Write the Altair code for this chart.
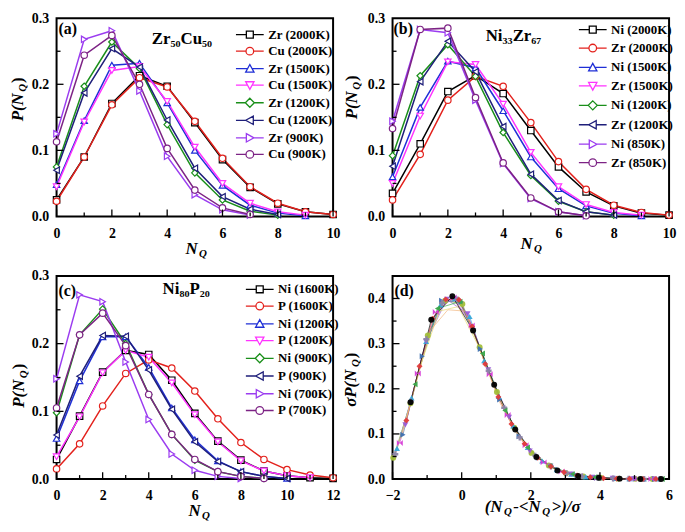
import altair as alt
import pandas as pd

FONT = "Liberation Serif"

# ---------------- data: panel (a) Zr50Cu50 ----------------
A_LABELS = ["Zr (2000K)", "Cu (2000K)", "Zr (1500K)", "Cu (1500K)",
            "Zr (1200K)", "Cu (1200K)", "Zr (900K)", "Cu (900K)"]
A_ZR2000 = [0.025, 0.090, 0.171, 0.213, 0.197, 0.142, 0.086, 0.044, 0.019, 0.007, 0.003]
A_CU2000 = [0.023, 0.090, 0.169, 0.210, 0.196, 0.144, 0.088, 0.045, 0.020, 0.007, 0.003]
A_ZR1500 = [0.048, 0.145, 0.229, 0.232, 0.172, 0.100, 0.047, 0.017, 0.005, 0.001]
A_CU1500 = [0.045, 0.143, 0.221, 0.227, 0.174, 0.105, 0.050, 0.020, 0.007, 0.002]
A_ZR1200 = [0.075, 0.197, 0.264, 0.224, 0.139, 0.066, 0.025, 0.008, 0.002]
A_CU1200 = [0.070, 0.187, 0.254, 0.226, 0.146, 0.073, 0.030, 0.011, 0.003]
A_ZR900 = [0.125, 0.268, 0.281, 0.190, 0.091, 0.033, 0.010, 0.002]
A_CU900 = [0.113, 0.244, 0.274, 0.200, 0.103, 0.040, 0.013, 0.003]

# ---------------- data: panel (b) Ni33Zr67 ----------------
B_LABELS = ["Ni (2000K)", "Zr (2000K)", "Ni (1500K)", "Zr (1500K)",
            "Ni (1200K)", "Zr (1200K)", "Ni (850K)", "Zr (850K)"]
B_NI2000 = [0.035, 0.110, 0.189, 0.213, 0.186, 0.130, 0.075, 0.037, 0.016, 0.005, 0.002]
B_ZR2000 = [0.025, 0.094, 0.176, 0.212, 0.197, 0.142, 0.083, 0.041, 0.017, 0.006, 0.002]
B_NI1500 = [0.060, 0.165, 0.235, 0.225, 0.160, 0.090, 0.042, 0.016, 0.005, 0.001]
B_ZR1500 = [0.050, 0.152, 0.234, 0.230, 0.170, 0.097, 0.045, 0.018, 0.006, 0.002]
B_NI1200 = [0.092, 0.213, 0.260, 0.212, 0.127, 0.062, 0.023, 0.007, 0.002]
B_ZR1200 = [0.076, 0.204, 0.265, 0.219, 0.136, 0.064, 0.024, 0.007, 0.002]
B_NI850 = [0.144, 0.283, 0.278, 0.176, 0.080, 0.027, 0.007, 0.001]
B_ZR850 = [0.133, 0.283, 0.285, 0.180, 0.081, 0.028, 0.007, 0.001]

# ---------------- data: panel (c) Ni80P20 ----------------
C_LABELS = ["Ni (1600K)", "P (1600K)", "Ni (1200K)", "P (1200K)",
            "Ni (900K)", "P (900K)", "Ni (700K)", "P (700K)"]
C_NI1600 = [0.029, 0.093, 0.158, 0.190, 0.184, 0.146, 0.097, 0.056, 0.028, 0.012, 0.005, 0.002, 0.001]
C_P1600 = [0.015, 0.052, 0.108, 0.156, 0.176, 0.164, 0.130, 0.089, 0.054, 0.029, 0.014, 0.006, 0.002]
C_NI1200 = [0.060, 0.145, 0.210, 0.210, 0.165, 0.105, 0.058, 0.027, 0.011, 0.004, 0.001]
C_P1200 = [0.033, 0.092, 0.157, 0.190, 0.180, 0.142, 0.095, 0.055, 0.027, 0.012, 0.005, 0.002]
C_NI900 = [0.098, 0.213, 0.251, 0.200, 0.125, 0.066, 0.028, 0.011, 0.004, 0.001]
C_P900 = [0.065, 0.152, 0.212, 0.211, 0.161, 0.103, 0.055, 0.026, 0.011, 0.004, 0.001]
C_NI700 = [0.148, 0.272, 0.262, 0.173, 0.088, 0.037, 0.013, 0.004, 0.001]
C_P700 = [0.105, 0.213, 0.245, 0.197, 0.125, 0.066, 0.029, 0.011, 0.004, 0.001]

# ---------------- data: panel (d) scaled collapse ----------------
D_NAMES = ["d2", "d3", "d4", "d5", "d6", "d7", "d8", "d9", "d10", "d11", "d1"]
D1_X = [-1.48, -0.88, -0.27, 0.33, 0.94, 1.55, 2.16, 2.77, 3.37, 3.97, 4.57, 5.17, 5.77]
D1_Y = [0.170, 0.353, 0.405, 0.329, 0.209, 0.110, 0.049, 0.019, 0.007, 0.003, 0.001, 0.0004, 0.0002]
D2_X = [-1.98, -1.48, -0.98, -0.48, 0.02, 0.52, 1.02, 1.52, 2.02, 2.52, 3.02, 3.52, 4.02, 4.52, 5.02, 5.52]
D2_Y = [0.047, 0.168, 0.318, 0.395, 0.388, 0.292, 0.193, 0.114, 0.058, 0.030, 0.013, 0.006, 0.003, 0.001, 0.0005, 0.0003]
D3_X = [-1.70, -1.14, -0.58, -0.02, 0.54, 1.10, 1.66, 2.22, 2.78, 3.34, 3.90, 4.46, 5.02, 5.58]
D3_Y = [0.098, 0.272, 0.395, 0.392, 0.288, 0.176, 0.095, 0.047, 0.020, 0.008, 0.003, 0.001, 0.0005, 0.0002]
D4_X = [-1.87, -1.45, -1.03, -0.61, -0.19, 0.23, 0.65, 1.07, 1.49, 1.91, 2.33, 2.75, 3.17, 3.59, 4.01, 4.43, 4.85, 5.27, 5.69]
D4_Y = [0.068, 0.180, 0.305, 0.386, 0.400, 0.360, 0.262, 0.183, 0.118, 0.070, 0.040, 0.021, 0.011, 0.005, 0.003, 0.0015, 0.001, 0.0005, 0.0003]
D5_X = [-1.79, -1.27, -0.75, -0.23, 0.29, 0.81, 1.33, 1.85, 2.37, 2.89, 3.41, 3.93, 4.45, 4.97, 5.49]
D5_Y = [0.080, 0.234, 0.370, 0.402, 0.340, 0.232, 0.142, 0.075, 0.037, 0.017, 0.007, 0.003, 0.0012, 0.0005, 0.0003]
D6_X = [-1.63, -1.03, -0.43, 0.17, 0.77, 1.37, 1.97, 2.57, 3.17, 3.77, 4.37, 4.97, 5.57]
D6_Y = [0.120, 0.305, 0.398, 0.366, 0.242, 0.137, 0.062, 0.028, 0.011, 0.004, 0.0015, 0.0005, 0.0002]
D7_X = [-1.92, -1.47, -1.02, -0.57, -0.12, 0.33, 0.78, 1.23, 1.68, 2.13, 2.58, 3.03, 3.48, 3.93, 4.38, 4.83, 5.28, 5.73]
D7_Y = [0.055, 0.172, 0.310, 0.390, 0.398, 0.332, 0.240, 0.158, 0.092, 0.052, 0.028, 0.013, 0.006, 0.003, 0.0013, 0.0007, 0.0003, 0.0002]
D8_X = [-1.35, -0.70, -0.05, 0.60, 1.25, 1.90, 2.55, 3.20, 3.85, 4.50, 5.15, 5.80]
D8_Y = [0.210, 0.378, 0.393, 0.278, 0.152, 0.070, 0.029, 0.011, 0.004, 0.0012, 0.0004, 0.0002]
D9_X = [-1.60, -1.22, -0.84, -0.46, -0.08, 0.30, 0.68, 1.06, 1.44, 1.82, 2.20, 2.58, 2.96, 3.34, 3.72, 4.10, 4.48, 4.86, 5.24, 5.62]
D9_Y = [0.130, 0.250, 0.355, 0.398, 0.397, 0.338, 0.255, 0.182, 0.122, 0.078, 0.047, 0.028, 0.015, 0.008, 0.004, 0.002, 0.001, 0.0006, 0.0003, 0.0002]
D10_X = [-1.90, -1.40, -0.90, -0.40, 0.10, 0.60, 1.10, 1.60, 2.10, 2.60, 3.10, 3.60]
D10_Y = [0.060, 0.190, 0.330, 0.375, 0.372, 0.272, 0.170, 0.100, 0.052, 0.026, 0.011, 0.005]
D11_X = [-1.75, -1.20, -0.65, -0.10, 0.45, 1.00, 1.55, 2.10, 2.65, 3.20]
D11_Y = [0.090, 0.250, 0.372, 0.382, 0.300, 0.195, 0.108, 0.052, 0.024, 0.010]

# ---------------- styles ----------------
COLORS = ["#000000", "#e3211c", "#1f2fd6", "#ff33ff", "#1a8f1a", "#1f1f7a", "#9b3cf0", "#7d2385"]
SHAPES = ["square", "circle", "triangle-up", "triangle-down", "diamond",
          "triangle-left", "triangle-right", "circle"]
LEG_PATHS = [
    "M-4,0H-1M1,0H4M-1,-1H1V1H-1Z",
    "M-4,0H-1.1M1.1,0H4M-1.1,0A1.1,1.1,0,1,1,1.1,0A1.1,1.1,0,1,1,-1.1,0Z",
    "M-4,0H-0.65M0.65,0H4M0,-1.2L1.2,1L-1.2,1Z",
    "M-4,0H-0.65M0.65,0H4M0,1.2L1.2,-1L-1.2,-1Z",
    "M-4,0H-1.3M1.3,0H4M0,-1.3L1.3,0L0,1.3L-1.3,0Z",
    "M-4,0H-1.2M1,0H4M-1.2,0L1,-1.2L1,1.2Z",
    "M-4,0H-1M1.2,0H4M1.2,0L-1,-1.2L-1,1.2Z",
    "M-4,0H-1.1M1.1,0H4M-1.1,0A1.1,1.1,0,1,1,1.1,0A1.1,1.1,0,1,1,-1.1,0Z",
]
D_COLORS = ["#a3bf3a", "#3d6fb0", "#35a7d9", "#d63ad6", "#9a5bd6", "#8c84a6",
            "#3aa84a", "#e23b3b", "#f2b27a", "#e8d86a", "#000000"]
D_SHAPES = ["circle", "triangle-right", "triangle-up", "M-1,-1L1,1L1,-1L-1,1Z",
            "triangle-down", "cross", "triangle-left", "diamond", "circle", "circle", "circle"]

CHW = {'P': .667, '(': .333, 'N': .722, 'σ': .6, ')': .333, '-': .333,
       '<': .57, '>': .57, '/': .278, 'Q': .722}
W = 279
ONE = pd.DataFrame({"a": [0]})


def tw(s, size):
    return sum(CHW.get(c, .5) for c in s) * size


def long_df(labels, series):
    rows = []
    for lab, vals in zip(labels, series):
        for n, p in enumerate(vals):
            rows.append({"series": lab, "N": n, "P": p})
    return pd.DataFrame(rows)


def axis(vals, fmt, pad):
    return alt.Axis(values=vals, format=fmt, title=None, labelFont=FONT, labelFontSize=14,
                    labelFontWeight="bold", labelColor="black", ticks=False, domain=False,
                    grid=False, labelPadding=pad, labelFlush=False, labelOverlap=False)


def txt(s, x, y, size=17, italic=False, angle=0, align="left", baseline="alphabetic"):
    return alt.Chart(ONE).mark_text(
        text=s, font=FONT, fontSize=size, fontWeight="bold",
        fontStyle="italic" if italic else "normal", angle=angle, align=align,
        baseline=baseline, color="black").encode(x=alt.value(x), y=alt.value(y))


def ytitle(prefix, x, y0):
    w1 = tw(prefix, 17)
    w2 = tw("Q", 11)
    return [txt(prefix, x, y0, 17, True, 270, "left", "middle"),
            txt("Q", x + 5, y0 - w1 - 0.5, 11, True, 270, "left", "middle"),
            txt(")", x, y0 - w1 - w2 - 1.5, 17, False, 270, "left", "middle")]


def xtitle(pieces, x0, y0):
    out = []
    x = x0
    for s, size, dy in pieces:
        out.append(txt(s, x, y0 + dy, size, True, 0, "left", "middle"))
        x += tw(s, size) + 1.5
    return out


def tick_layers(xs, ys, H, xmajor, xminor, ymajor, yminor, xax, yax):
    out = []
    for vals, ln in ((xmajor, 7), (xminor, 4)):
        out.append(alt.Chart(pd.DataFrame({"t": vals})).mark_rule(color="black", strokeWidth=1.3).encode(
            x=alt.X("t:Q", scale=xs, axis=xax), y=alt.value(H), y2=alt.value(H - ln)))
    for vals, ln in ((ymajor, 7), (yminor, 4)):
        out.append(alt.Chart(pd.DataFrame({"t": vals})).mark_rule(color="black", strokeWidth=1.3).encode(
            y=alt.Y("t:Q", scale=ys, axis=yax), x=alt.value(0), x2=alt.value(ln)))
    return out


def dist_panel(labels, series, xmax, H, lx, ly, rowpad, tag, tag_xy, comp, comp_xy,
               yt_xy, xt_xy):
    df = long_df(labels, series)
    xs = alt.Scale(domain=[0, xmax], nice=False, zero=False)
    ys = alt.Scale(domain=[0, 0.3], nice=False)
    xmajor = list(range(0, xmax + 1, 2))
    xminor = list(range(1, xmax, 2))
    xax = axis(xmajor, "d", 10)
    yax = axis([0, 0.1, 0.2, 0.3], ".1f", 8)
    cscale = alt.Scale(domain=labels, range=COLORS)
    X = alt.X("N:Q", scale=xs, axis=xax)
    Y = alt.Y("P:Q", scale=ys, axis=yax)
    base = alt.Chart(df)
    lines = base.mark_line(strokeWidth=1.5).encode(
        x=X, y=Y, color=alt.Color("series:N", scale=cscale, legend=None))
    pts = base.mark_point(filled=False, fill="white", size=42, strokeWidth=1.2, opacity=1).encode(
        x=X, y=Y, color=alt.Color("series:N", scale=cscale, legend=None),
        shape=alt.Shape("series:N", scale=alt.Scale(domain=labels, range=SHAPES), legend=None))
    leg = alt.Legend(orient="none", legendX=lx, legendY=ly, title=None, symbolSize=49,
                     symbolStrokeWidth=1.3, symbolFillColor="white", symbolOpacity=1,
                     labelFont=FONT, labelFontSize=13, labelFontWeight="bold", labelColor="black",
                     labelOffset=12, rowPadding=rowpad, padding=0, labelLimit=300)
    legl = base.mark_point(filled=False, fill="white", size=0, opacity=1).encode(
        x=X, y=Y, color=alt.Color("series:N", scale=cscale, legend=leg),
        shape=alt.Shape("series:N", scale=alt.Scale(domain=labels, range=LEG_PATHS), legend=leg))
    ticks = tick_layers(xs, ys, H, xmajor, xminor, [0.1, 0.2], [0.05, 0.15, 0.25], xax, yax)
    texts = [txt(tag, tag_xy[0], tag_xy[1], 16), txt(comp, comp_xy[0], comp_xy[1], 17)]
    texts += ytitle("P(N", yt_xy[0], yt_xy[1])
    texts += xtitle([("N", 17, 0), ("Q", 11, 5)], xt_xy[0], H + xt_xy[1])
    return alt.layer(lines, pts, legl, *ticks, *texts).resolve_scale(
        color="independent", shape="independent").properties(width=W, height=H)


def collapse_panel(H):
    xs_list = [D2_X, D3_X, D4_X, D5_X, D6_X, D7_X, D8_X, D9_X, D10_X, D11_X, D1_X]
    ys_list = [D2_Y, D3_Y, D4_Y, D5_Y, D6_Y, D7_Y, D8_Y, D9_Y, D10_Y, D11_Y, D1_Y]
    rows = []
    for name, xv, yv in zip(D_NAMES, xs_list, ys_list):
        for a, b in zip(xv, yv):
            rows.append({"s": name, "x": a, "y": b})
    df = pd.DataFrame(rows)
    pdf = df[~df["s"].isin(["d10", "d11"])]
    xs = alt.Scale(domain=[-2, 6], nice=False, zero=False)
    ys = alt.Scale(domain=[0, 0.45], nice=False)
    xax = axis([-2, 0, 2, 4, 6], "d", 10)
    yax = axis([0, 0.1, 0.2, 0.3, 0.4], ".1f", 8)
    cscale = alt.Scale(domain=D_NAMES, range=D_COLORS)
    X = alt.X("x:Q", scale=xs, axis=xax)
    Y = alt.Y("y:Q", scale=ys, axis=yax)
    lines = alt.Chart(df).mark_line(strokeWidth=0.9, opacity=0.75).encode(
        x=X, y=Y, color=alt.Color("s:N", scale=cscale, legend=None))
    pts = alt.Chart(pdf).mark_point(filled=True, size=36, opacity=0.95).encode(
        x=X, y=Y, color=alt.Color("s:N", scale=cscale, legend=None),
        shape=alt.Shape("s:N", scale=alt.Scale(domain=D_NAMES, range=D_SHAPES), legend=None))
    ticks = tick_layers(xs, ys, H, [-2, 0, 2, 4, 6], [-1, 1, 3, 5],
                        [0.1, 0.2, 0.3, 0.4], [0.05, 0.15, 0.25, 0.35], xax, yax)
    texts = [txt("(d)", 2, 20, 16)]
    texts += ytitle("σP(N", -42, 132)
    texts += xtitle([("(N", 17, 0), ("Q", 11, 5), ("-<N", 17, 0), ("Q", 11, 5), (">)/σ", 17, 0)],
                    93, H + 28)
    return alt.layer(lines, pts, *ticks, *texts).resolve_scale(
        color="independent", shape="independent").properties(width=W, height=H)


H1, H2 = 200, 205
pa = dist_panel(A_LABELS, [A_ZR2000, A_CU2000, A_ZR1500, A_CU1500, A_ZR1200, A_CU1200, A_ZR900, A_CU900],
                10, H1, 188.5, 10, 2.7, "(a)", (2, 16), "Zr₅₀Cu₅₀", (96, 26), (-39, 104), (130, 33))
pb = dist_panel(B_LABELS, [B_NI2000, B_ZR2000, B_NI1500, B_ZR1500, B_NI1200, B_ZR1200, B_NI850, B_ZR850],
                10, H1, 195.5, 5, 4.6, "(b)", (1, 16), "Ni₃₃Zr₆₇", (94, 23), (-41, 102), (129, 28))
pc = dist_panel(C_LABELS, [C_NI1600, C_P1600, C_NI1200, C_P1200, C_NI900, C_P900, C_NI700, C_P700],
                12, H2, 198.5, 7, 2.9, "(c)", (2, 20), "Ni₈₀P₂₀", (107, 18), (-38, 133), (133, 32))
pd_ = collapse_panel(H2)

chart = alt.concat(pa, pb, pc, pd_, columns=2, spacing={"row": 60, "column": 60},
                   bounds="flush").resolve_scale(
    color="independent", shape="independent").properties(padding=0).configure_view(
    stroke="black", strokeWidth=2)

chart.save("out.html", embed_options={"renderer": "svg", "actions": False})
